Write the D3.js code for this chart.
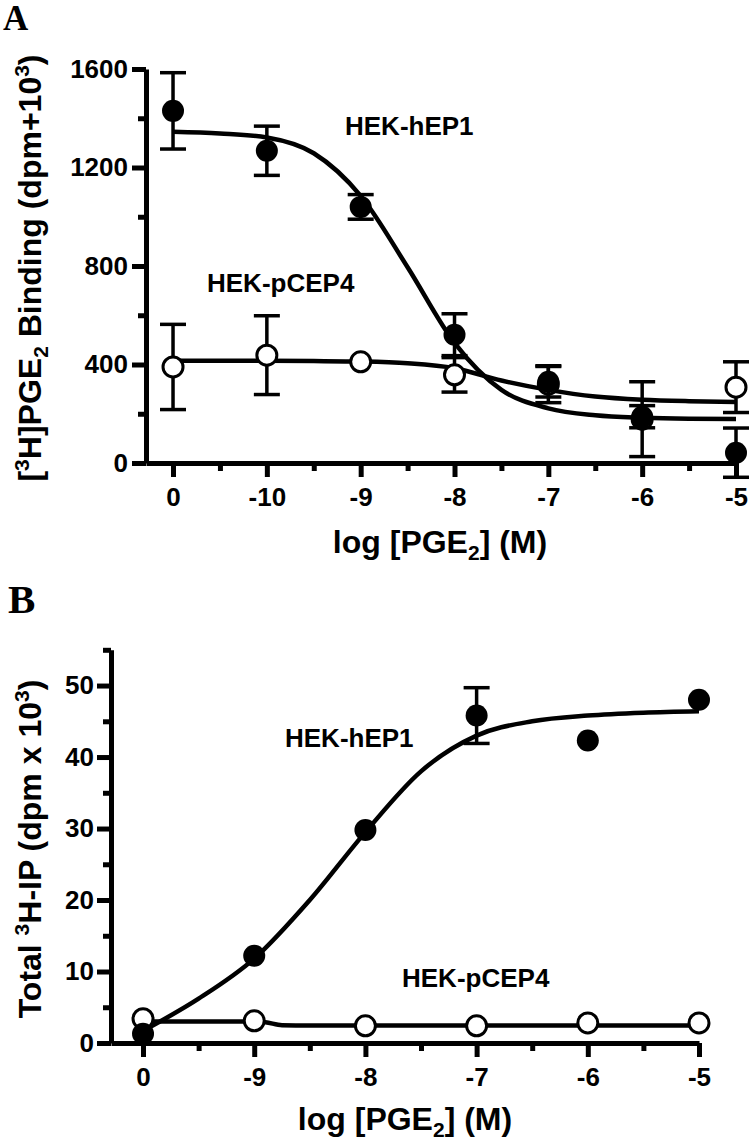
<!DOCTYPE html>
<html><head><meta charset="utf-8">
<script src="https://cdn.jsdelivr.net/npm/d3@7"></script>
<style>body{margin:0;background:#fff} svg{display:block}</style>
</head><body>
<svg id="c" width="750" height="1140"></svg>
<script>
// ---------- Panel A: [3H]PGE2 binding ----------
const aLogX = [-11, -10, -9, -8, -7, -6, -5];
const aTickLabels = ["0", "-10", "-9", "-8", "-7", "-6", "-5"];
const aEP1Mean = [1430, 1268, 1040, 521, 330, 188, 42];
const aEP1Sem  = [155, 100, 50, 85, 62, 45, 100];
const aCEP4Mean = [390, 438, 411, 358, 320, 178, 308];
const aCEP4Sem  = [173, 160, 0, 70, 75, 152, 103];
const aEP1FitX = [-11, -10.5, -10, -9.5, -9, -8.5, -8, -7.5, -7, -6.5, -6, -5.5, -5];
const aEP1FitY = [1345, 1338, 1322, 1258, 1085, 795, 488, 297, 222, 194, 184, 180, 179];
const aCEP4FitX = [-11, -10, -9.5, -9, -8.5, -8, -7.5, -7, -6.5, -6, -5.5, -5];
const aCEP4FitY = [415, 415, 414, 412, 405, 385, 335, 297, 270, 257, 251, 248];
const aYTicks = [0, 400, 800, 1200, 1600];
const aYMinor = [200, 600, 1000, 1400];
const aXMinor = [-10.5, -9.5, -8.5, -7.5, -6.5, -5.5];

// ---------- Panel B: total 3H-IP ----------
const bLogX = [-10, -9, -8, -7, -6, -5];
const bTickLabels = ["0", "-9", "-8", "-7", "-6", "-5"];
const bEP1Mean = [1.3, 12.2, 29.8, 45.8, 42.3, 48.0];
const bEP1Sem  = [0, 0, 0, 3.9, 0, 0];
const bCEP4Mean = [3.4, 3.1, 2.4, 2.4, 2.8, 2.8];
const bCEP4Sem  = [0, 0, 0, 0, 0, 0];
const bEP1FitX = [-10, -9.5, -9, -8.5, -8, -7.5, -7, -6.5, -6, -5.5, -5];
const bEP1FitY = [1.7, 6.2, 11.8, 20, 29.5, 38, 43, 45, 45.8, 46.2, 46.4];
const bCEP4FitX = [-10, -9, -8.9, -8.75, -8.5, -5];
const bCEP4FitY = [3.0, 3.0, 2.9, 2.5, 2.45, 2.45];
const bYTicks = [0, 10, 20, 30, 40, 50];
const bYMinor = [5, 15, 25, 35, 45, 55];
const bXMinor = [-9.5, -8.5, -7.5, -6.5, -5.5];

const FONT = "'Liberation Sans', Arial, Helvetica, sans-serif";
const SERIF = "'Liberation Serif', 'Times New Roman', serif";
const svg = d3.select("#c");

function zip(xs, ys) { return xs.map((v, i) => [v, ys[i]]); }

function styleAxis(sel) {
  sel.attr("font-family", FONT).attr("font-size", 26).attr("font-weight", "bold");
  sel.selectAll(".domain").attr("stroke", "#000").attr("stroke-width", 5);
  sel.selectAll(".tick line").attr("stroke", "#000").attr("stroke-width", 5);
  sel.selectAll(".tick text").attr("fill", "#000");
}

function drawPanel(p) {
  const x = d3.scaleLinear().domain(p.xDomain).range(p.xRange);
  const y = d3.scaleLinear().domain(p.yDomain).range(p.yRange);
  const g = svg.append("g");
  const x0 = p.xRange[0], y0 = p.yRange[0];

  // minor ticks
  g.append("g").attr("transform", `translate(${x0},0)`)
    .call(d3.axisLeft(y).tickValues(p.yMinor).tickSize(8).tickSizeOuter(0).tickFormat(""))
    .call(styleAxis).call(s => s.select(".domain").remove());
  g.append("g").attr("transform", `translate(0,${y0})`)
    .call(d3.axisBottom(x).tickValues(p.xMinor).tickSize(8).tickSizeOuter(0).tickFormat(""))
    .call(styleAxis).call(s => s.select(".domain").remove());

  // major axes
  g.append("g").attr("transform", `translate(${x0},0)`)
    .call(d3.axisLeft(y).tickValues(p.yTicks).tickSize(14).tickSizeOuter(0).tickPadding(p.yPad).tickFormat(d3.format("d")))
    .call(styleAxis);
  const lab = new Map(p.xTicks.map((v, i) => [v, p.xLabels[i]]));
  g.append("g").attr("transform", `translate(0,${y0})`)
    .call(d3.axisBottom(x).tickValues(p.xTicks).tickSize(14).tickSizeOuter(0).tickPadding(p.xPad).tickFormat(v => lab.get(v)))
    .call(styleAxis);

  const line = d3.line().x(d => x(d[0])).y(d => y(d[1])).curve(d3.curveMonotoneX);
  p.fits.forEach(f => {
    g.append("path").attr("d", line(f)).attr("fill", "none")
      .attr("stroke", "#000").attr("stroke-width", 4.5);
  });

  p.series.forEach(s => {
    const pts = p.xTicks.map((v, i) => ({ x: v, m: s.mean[i], e: s.sem[i] }));
    const eb = g.append("g").attr("stroke", "#000").attr("stroke-width", 3.5);
    pts.filter(d => d.e > 0).forEach(d => {
      const cx = x(d.x), t = y(d.m + d.e), b = y(d.m - d.e);
      eb.append("line").attr("x1", cx).attr("x2", cx).attr("y1", t).attr("y2", b);
      eb.append("line").attr("x1", cx - 13).attr("x2", cx + 13).attr("y1", t).attr("y2", t);
      eb.append("line").attr("x1", cx - 13).attr("x2", cx + 13).attr("y1", b).attr("y2", b);
    });
    g.append("g").selectAll("circle").data(pts).join("circle")
      .attr("cx", d => x(d.x)).attr("cy", d => y(d.m))
      .attr("r", s.filled ? 11 : 10)
      .attr("fill", s.filled ? "#000" : "#fff")
      .attr("stroke", s.filled ? "none" : "#000")
      .attr("stroke-width", 3);
  });

  // labels
  p.labels.forEach(l => {
    g.append("text").attr("x", l.x).attr("y", l.y).text(l.t)
      .attr("font-family", FONT).attr("font-weight", "bold").attr("font-size", 26);
  });
}

function richText(parent, parts, size) {
  const t = parent.append("text").attr("font-family", FONT).attr("font-weight", "bold")
    .attr("font-size", size).attr("text-anchor", "middle");
  let shift = 0;
  parts.forEach(pt => {
    const want = pt.k === "sup" ? -12 : pt.k === "sub" ? 7 : 0;
    const sp = t.append("tspan").text(pt.s).attr("dy", want - shift);
    if (pt.k) sp.attr("font-size", Math.round(size * 0.66));
    shift = want;
  });
  return t;
}

drawPanel({
  xDomain: [-11.288, -5], xRange: [146, 736],
  yDomain: [0, 1600], yRange: [463, 69],
  xTicks: aLogX, xLabels: aTickLabels, xMinor: aXMinor,
  yTicks: aYTicks, yMinor: aYMinor, yPad: 4, xPad: 11,
  fits: [zip(aCEP4FitX, aCEP4FitY), zip(aEP1FitX, aEP1FitY)],
  series: [
    { mean: aCEP4Mean, sem: aCEP4Sem, filled: false },
    { mean: aEP1Mean, sem: aEP1Sem, filled: true }
  ],
  labels: [{ t: "HEK-hEP1", x: 345, y: 135 }, { t: "HEK-pCEP4", x: 207, y: 292 }]
});

drawPanel({
  xDomain: [-10.288, -5], xRange: [111, 699],
  yDomain: [0, 55], yRange: [1043, 649.8],
  xTicks: bLogX, xLabels: bTickLabels, xMinor: bXMinor,
  yTicks: bYTicks, yMinor: bYMinor, yPad: 3, xPad: 11,
  fits: [zip(bCEP4FitX, bCEP4FitY), zip(bEP1FitX, bEP1FitY)],
  series: [
    { mean: bCEP4Mean, sem: bCEP4Sem, filled: false },
    { mean: bEP1Mean, sem: bEP1Sem, filled: true }
  ],
  labels: [{ t: "HEK-hEP1", x: 285, y: 747 }, { t: "HEK-pCEP4", x: 402, y: 987 }]
});

// axis titles
richText(svg.append("g").attr("transform", "translate(440,553)"),
  [{ s: "log [PGE" }, { s: "2", k: "sub" }, { s: "] (M)" }], 32);
richText(svg.append("g").attr("transform", "translate(405,1130)"),
  [{ s: "log [PGE" }, { s: "2", k: "sub" }, { s: "] (M)" }], 32);
richText(svg.append("g").attr("transform", "translate(41,268) rotate(-90)"),
  [{ s: "[" }, { s: "3", k: "sup" }, { s: "H]PGE" }, { s: "2", k: "sub" }, { s: " Binding (dpm+10" }, { s: "3", k: "sup" }, { s: ")" }], 32);
richText(svg.append("g").attr("transform", "translate(41,849) rotate(-90)"),
  [{ s: "Total " }, { s: "3", k: "sup" }, { s: "H-IP (dpm x 10" }, { s: "3", k: "sup" }, { s: ")" }], 32);

// panel letters
svg.append("text").attr("x", 3).attr("y", 30).text("A")
  .attr("font-family", SERIF).attr("font-weight", "bold").attr("font-size", 35);
svg.append("text").attr("x", 8).attr("y", 613).text("B")
  .attr("font-family", SERIF).attr("font-weight", "bold").attr("font-size", 41);
</script>
</body></html>
